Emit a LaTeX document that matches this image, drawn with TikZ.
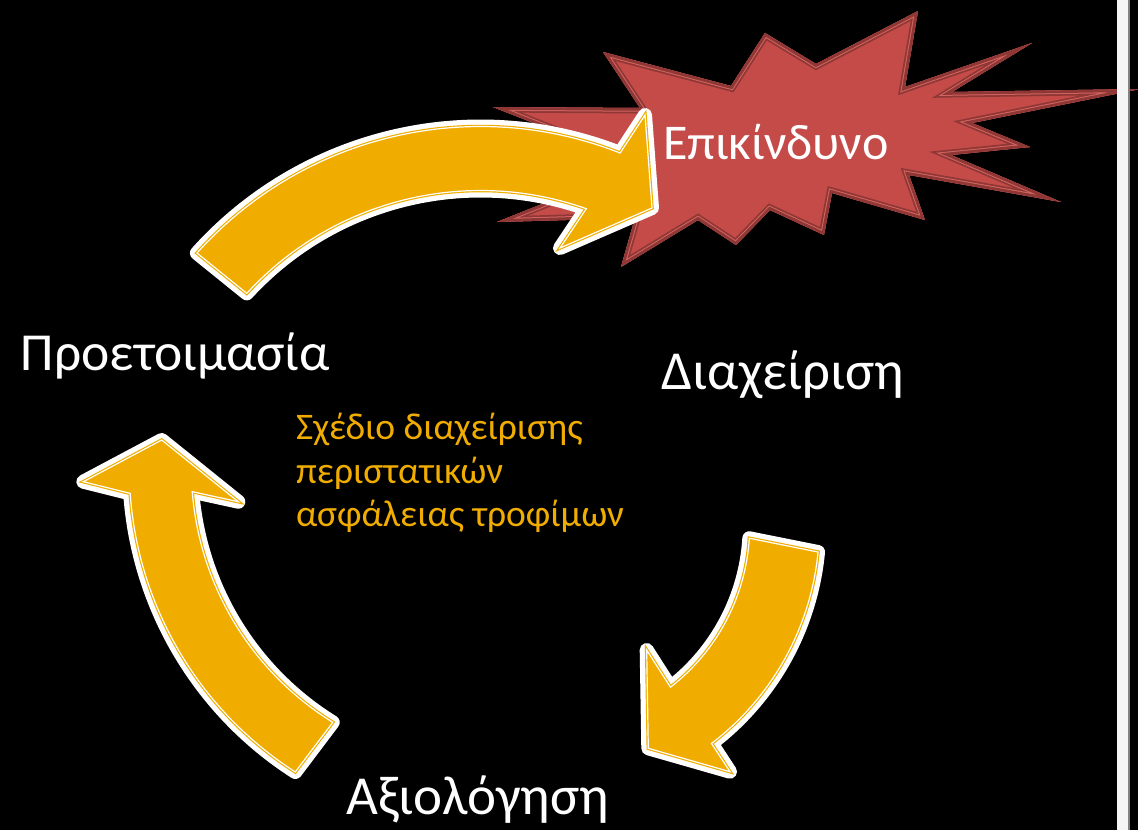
\documentclass[tikz,border=0pt]{standalone}
\usepackage{fontspec}
\setmainfont{Carlito}
\usetikzlibrary{calc}
\definecolor{gold}{RGB}{240,173,0}
\definecolor{starfill}{RGB}{196,75,72}
\definecolor{staredge}{RGB}{143,55,53}
\definecolor{starline}{RGB}{210,100,96}
\definecolor{rulegray}{RGB}{130,130,130}
\newcommand\starpath{(493,-107) -- (640,-108) -- (603,-52) -- (731,-86) -- (765,-33) -- (816,-64) -- (918,-11) -- (905,-87) -- (1032,-43) -- (952,-92) -- (1140,-89) -- (972,-123) -- (1030,-147) -- (951,-155) -- (1061,-202) -- (909,-175) -- (925,-220) -- (832,-193) -- (824,-235) -- (770,-210) -- (736,-245) -- (698,-220) -- (621,-267) -- (635,-218) -- (497,-222) -- (640,-165) -- cycle}
\begin{document}
\begin{tikzpicture}[x=1pt,y=1pt,
  arrowshape/.style={fill=gold, draw=gold, line width=3.5, line join=miter,
    preaction={draw=white, fill=white, line width=14, line join=round},
    postaction={draw=white, fill=none, line width=1.2, line join=miter}},
  lbl/.style={text=white, inner sep=0pt},
  note/.style={text=gold, inner sep=0pt, align=left, font=\fontsize{37.5}{43.5}\selectfont}]
\useasboundingbox (0,0) rectangle (1138,-830);
\fill[black] (0,0) rectangle (1138,-830);
\begin{scope}
  \clip (0,0) rectangle (1138,-830);
  % explosion shape
  \begin{scope}
    \clip \starpath;
    \fill[starfill] \starpath;
    \draw[staredge, line width=11] \starpath;
    \draw[starline, line width=7.5] \starpath;
    \draw[staredge, line width=5.5] \starpath;
  \end{scope}
  % right rule
  \fill[white!96!black] (1117,0) rectangle (1128,-830);
  \fill[rulegray] (1128,0) rectangle (1129.5,-830);
\end{scope}
\coordinate (C1) at (480.5,-507.5);
\coordinate (C2) at (545.7,-525.8);
\coordinate (C3) at (490.3,-468.2);
% top arrow
\path[arrowshape] ($(C1)+(138.1:381)$) arc[start angle=138.1, end angle=68.5, radius=381]
  -- (645,-115) -- (652,-208) -- (560,-248)
  -- ($(C1)+(70.5:317)$) arc[start angle=70.5, end angle=137.5, radius=317] -- cycle;
% right arrow
\path[arrowshape] ($(C2)+(-5.5:273.6)$) arc[start angle=-5.5, end angle=-52.7, radius=273.6]
  -- (730,-771.7) -- (648.3,-748.3) -- (646.7,-650)
  -- ($(C2)+(-52.3:204)$) arc[start angle=-52.3, end angle=-3.5, radius=204] -- cycle;
% left arrow
\path[arrowshape] ($(C3)+(237.3:361)$) arc[start angle=237.3, end angle=184, radius=361]
  -- (83.3,-481.7) -- (161.7,-440) -- (238.3,-501.7)
  -- ($(C3)+(184.5:299)$) arc[start angle=184.5, end angle=238.2, radius=299] -- cycle;
% texts
\node[lbl, anchor=base west, font=\fontsize{50}{60}\selectfont] (danger) at (663,-159) {Επικίνδυνο};
\node[lbl, anchor=base west, font=\fontsize{53.5}{60}\selectfont] (prep) at (20.7,-370) {Προετοιμασία};
\node[lbl, anchor=base west, font=\fontsize{55}{60}\selectfont] (manage) at (661.7,-389) {Διαχείριση};
\node[lbl, anchor=base west, font=\fontsize{55}{60}\selectfont] (eval) at (346.7,-814) {Αξιολόγηση};
\node[note, anchor=north west] (plan) at (296,-413) {Σχέδιο διαχείρισης\\περιστατικών\\ασφάλειας τροφίμων};
\end{tikzpicture}
\end{document}
